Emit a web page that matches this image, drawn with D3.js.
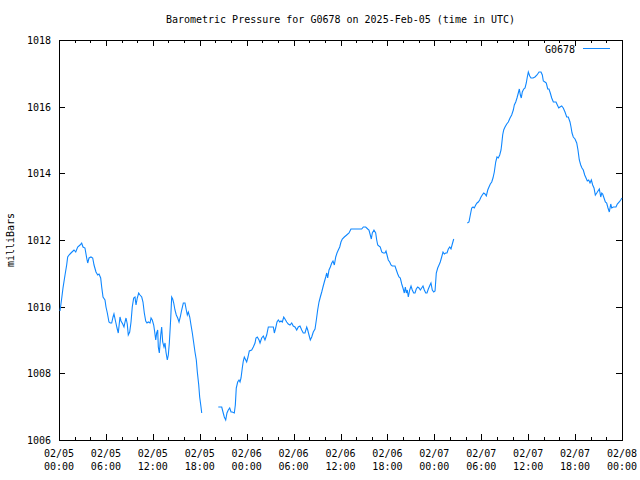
<!DOCTYPE html>
<html><head><meta charset="utf-8">
<script src="https://cdn.jsdelivr.net/npm/d3@7"></script>
<style>
body{margin:0;background:#fff}
svg text{font-family:"DejaVu Sans Mono","Liberation Mono",monospace;font-size:10px;fill:#000}
</style>
</head><body>
<svg id="chart" width="640" height="480"></svg>
<script>
const chartTitle = "Barometric Pressure for G0678 on 2025-Feb-05 (time in UTC)";
const seriesName = "G0678";
const yAxisLabel = "milliBars";
const yTickValues = [1006, 1008, 1010, 1012, 1014, 1016, 1018];
const startUTC = Date.UTC(2025, 1, 5, 0, 0);
const endUTC = Date.UTC(2025, 1, 8, 0, 0);

// hours since 2025-02-05 00:00 UTC
const hours = [
0.13,0.35,0.51,0.77,0.98,1.11,1.28,1.53,1.66,1.92,2.14,2.39,2.69,2.90,3.07,3.32,3.54,3.67,3.84,4.09,
4.31,4.48,4.73,4.95,5.12,5.33,5.46,5.63,5.88,6.01,6.18,6.39,6.56,6.74,6.91,7.03,7.25,7.42,7.58,7.80,
7.93,8.15,8.31,8.44,8.57,8.73,8.86,9.04,9.21,9.37,9.55,9.72,9.85,10.01,10.19,10.36,10.58,10.74,10.91,11.09,
11.25,11.42,11.64,11.77,11.93,12.11,12.24,12.37,12.49,12.62,12.70,12.83,13.01,13.13,13.26,13.43,13.56,13.68,13.85,13.98,
14.11,14.29,14.41,14.54,14.67,14.83,15.00,15.18,15.35,15.51,15.69,15.90,16.11,16.28,16.41,16.54,16.72,16.88,17.05,17.23,
17.39,17.56,17.69,17.87,17.99,18.16,18.25,19.30,
20.37,20.81,20.97,21.14,21.32,21.48,21.65,21.83,22.00,22.16,22.42,22.55,22.67,22.85,23.02,23.15,23.28,23.44,23.57,23.70,
23.88,24.00,24.17,24.34,24.64,24.85,25.07,25.19,25.36,25.58,25.71,25.92,26.13,26.34,26.56,26.77,27.20,27.41,27.54,27.71,
27.88,28.05,28.23,28.39,28.56,28.74,28.90,29.12,29.32,29.54,29.76,29.96,30.18,30.40,30.60,30.82,31.04,31.24,31.46,31.68,
31.81,31.97,32.14,32.32,32.52,32.74,32.91,33.08,33.25,33.42,33.60,33.76,33.93,34.11,34.24,34.36,34.53,34.70,34.88,35.04,
35.21,35.39,35.55,35.72,35.90,36.06,36.23,36.49,36.79,37.09,37.34,37.85,38.71,38.92,39.22,39.48,39.64,39.81,39.94,40.07,
40.28,40.50,40.63,40.76,40.92,41.09,41.27,41.47,41.69,41.82,41.95,42.11,42.29,42.46,42.62,42.97,43.14,43.32,43.48,43.65,
43.83,43.99,44.16,44.29,44.42,44.54,44.67,44.85,45.02,45.18,45.36,45.53,45.69,45.87,46.04,46.21,46.38,46.55,46.72,46.90,
47.06,47.23,47.45,47.57,47.74,47.92,48.09,48.25,48.43,48.60,48.76,48.94,49.11,49.28,49.45,49.62,49.79,49.97,50.13,50.30,
50.48,51.30,
52.22,52.43,52.60,52.78,52.95,53.11,53.29,53.46,53.62,53.80,53.97,54.13,54.31,54.48,54.65,54.83,54.99,55.16,55.34,55.50,
55.67,55.85,56.01,56.18,56.36,56.53,56.62,56.74,56.87,57.04,57.26,57.46,57.68,57.89,58.10,58.23,58.41,58.57,58.74,58.87,
59.00,59.12,59.25,59.43,59.60,59.76,59.89,60.02,60.20,60.36,60.62,60.87,61.13,61.39,61.64,61.81,61.94,62.15,62.32,62.50,
62.66,62.83,63.01,63.22,63.56,63.73,63.91,64.07,64.29,64.49,64.71,64.93,65.13,65.35,65.48,65.61,65.77,65.99,66.21,66.37,
66.54,66.72,66.88,67.05,67.23,67.40,67.56,67.74,67.91,68.08,68.25,68.42,68.59,68.77,68.93,69.10,69.28,69.41,69.53,69.70,
69.87,70.04,70.21,70.38,70.56,70.68,70.89,71.23,71.40,71.65,71.83,72.00
];

// pressure in millibars (null = no data)
const pressure = [
1009.87,1010.26,1010.56,1010.95,1011.25,1011.49,1011.55,1011.61,1011.64,1011.70,1011.64,1011.79,1011.85,1011.91,1011.79,1011.76,1011.46,1011.31,1011.46,1011.49,
1011.46,1011.25,1011.04,1010.95,1010.98,1010.86,1010.59,1010.29,1010.20,1009.99,1009.81,1009.54,1009.51,1009.51,1009.69,1009.78,1009.54,1009.36,1009.21,1009.69,
1009.57,1009.48,1009.39,1009.54,1009.66,1009.48,1009.15,1009.24,1009.54,1009.99,1010.26,1010.29,1010.05,1010.26,1010.41,1010.35,1010.29,1010.14,1009.81,1009.57,
1009.51,1009.54,1009.51,1009.66,1009.60,1009.45,1009.24,1009.00,1009.21,1009.30,1008.79,1008.61,1009.15,1009.39,1008.94,1008.79,1008.91,1008.64,1008.40,1008.55,
1008.91,1009.66,1010.29,1010.23,1010.11,1009.90,1009.75,1009.66,1009.54,1009.69,1009.90,1010.11,1010.11,1009.90,1009.75,1009.84,1009.69,1009.45,1009.21,1008.91,
1008.64,1008.40,1008.04,1007.65,1007.29,1006.99,1006.81,null,
1006.99,1006.99,1006.84,1006.69,1006.60,1006.81,1006.90,1006.96,1006.84,1006.84,1006.81,1007.05,1007.56,1007.74,1007.80,1007.74,1007.86,1008.16,1008.37,1008.49,
1008.40,1008.34,1008.49,1008.67,1008.70,1008.79,1008.91,1009.06,1009.09,1009.00,1008.91,1009.06,1009.12,1009.00,1009.15,1009.39,1009.39,1009.39,1009.21,1009.36,
1009.54,1009.60,1009.54,1009.57,1009.54,1009.69,1009.63,1009.54,1009.48,1009.45,1009.51,1009.42,1009.39,1009.30,1009.39,1009.42,1009.30,1009.21,1009.21,1009.39,
1009.30,1009.15,1009.00,1009.09,1009.24,1009.33,1009.60,1009.90,1010.14,1010.29,1010.44,1010.59,1010.74,1010.89,1011.01,1010.86,1011.10,1011.19,1011.31,1011.37,
1011.25,1011.49,1011.61,1011.70,1011.79,1011.94,1012.03,1012.09,1012.15,1012.21,1012.33,1012.33,1012.33,1012.39,1012.39,1012.33,1012.30,1012.15,1012.03,1012.21,
1012.30,1012.21,1012.00,1011.85,1011.82,1011.79,1011.64,1011.61,1011.61,1011.67,1011.55,1011.40,1011.34,1011.25,1011.22,1011.22,1011.10,1010.98,1010.89,1010.86,
1010.68,1010.56,1010.41,1010.59,1010.41,1010.50,1010.29,1010.50,1010.62,1010.50,1010.41,1010.41,1010.53,1010.59,1010.56,1010.50,1010.56,1010.62,1010.50,1010.41,
1010.41,1010.53,1010.65,1010.71,1010.50,1010.44,1010.47,1011.01,1011.16,1011.25,1011.34,1011.49,1011.64,1011.58,1011.61,1011.61,1011.73,1011.79,1011.73,1011.88,
1012.03,null,
1012.51,1012.54,1012.75,1012.96,1012.99,1012.96,1013.05,1013.11,1013.14,1013.20,1013.29,1013.35,1013.41,1013.38,1013.32,1013.50,1013.59,1013.68,1013.74,1013.86,
1014.04,1014.34,1014.49,1014.46,1014.55,1014.70,1014.88,1015.15,1015.30,1015.39,1015.48,1015.54,1015.66,1015.75,1015.90,1016.05,1016.14,1016.26,1016.41,1016.53,
1016.35,1016.26,1016.44,1016.53,1016.56,1016.71,1016.89,1017.04,1016.92,1016.86,1016.86,1016.89,1016.95,1017.04,1017.04,1016.95,1016.77,1016.74,1016.71,1016.53,
1016.53,1016.41,1016.26,1016.14,1016.14,1016.05,1015.96,1015.99,1016.02,1015.96,1015.84,1015.69,1015.69,1015.54,1015.39,1015.21,1015.09,1015.03,1014.91,1014.70,
1014.40,1014.25,1014.16,1014.10,1013.95,1013.86,1013.77,1013.80,1013.71,1013.80,1013.65,1013.56,1013.35,1013.41,1013.47,1013.53,1013.29,1013.41,1013.38,1013.26,
1013.14,1013.11,1012.96,1012.84,1013.08,1012.96,1012.99,1012.99,1013.08,1013.14,1013.20,1013.26
];

const lineColor = "#0f87ff";
const W = 640, H = 480;
const m = {left: 59, right: 622, top: 40, bottom: 440};

const svg = d3.select("#chart");
svg.append("rect").attr("width", W).attr("height", H).attr("fill", "#fff");

const x = d3.scaleUtc().domain([new Date(startUTC), new Date(endUTC)]).range([m.left, m.right]);
const y = d3.scaleLinear().domain([1006, 1018]).range([m.bottom, m.top]);

const data = hours.map((h, i) => ({t: new Date(startUTC + h * 3600000), v: pressure[i]}));

const majorX = d3.utcHour.every(6).range(new Date(startUTC), new Date(endUTC + 1));
const minorX = d3.utcHour.every(2).range(new Date(startUTC), new Date(endUTC + 1));

// ticks (inward, mirrored)
const gx = svg.append("g").attr("shape-rendering", "crispEdges");
function axisGroup(axis, tf) {
  const g = gx.append("g").attr("transform", tf).call(axis);
  g.select(".domain").remove();
  g.selectAll("text").remove();
  g.selectAll("line").attr("stroke", "#000");
  return g;
}
axisGroup(d3.axisBottom(x).tickValues(minorX).tickSize(-3), `translate(0,${m.bottom})`);
axisGroup(d3.axisBottom(x).tickValues(majorX).tickSize(-6), `translate(0,${m.bottom})`);
axisGroup(d3.axisTop(x).tickValues(minorX).tickSize(-3), `translate(0,${m.top})`);
axisGroup(d3.axisTop(x).tickValues(majorX).tickSize(-6), `translate(0,${m.top})`);
axisGroup(d3.axisLeft(y).tickValues(yTickValues).tickSize(-6), `translate(${m.left},0)`);
axisGroup(d3.axisRight(y).tickValues(yTickValues).tickSize(-6), `translate(${m.right},0)`);

// frame
svg.append("rect").attr("x", m.left + 0.5).attr("y", m.top + 0.5)
  .attr("width", m.right - m.left).attr("height", m.bottom - m.top)
  .attr("fill", "none").attr("stroke", "#000").attr("shape-rendering", "crispEdges");

// y tick labels
svg.append("g").selectAll("text").data(yTickValues).join("text")
  .attr("x", 51).attr("y", d => y(d) + 4).attr("text-anchor", "end").text(d => d);

// x tick labels
const fDate = d3.utcFormat("%m/%d"), fTime = d3.utcFormat("%H:%M");
const xl = svg.append("g").selectAll("g").data(majorX).join("g")
  .attr("transform", d => `translate(${x(d)},0)`);
xl.append("text").attr("y", 457).attr("text-anchor", "middle").text(d => fDate(d));
xl.append("text").attr("y", 470).attr("text-anchor", "middle").text(d => fTime(d));

// title
svg.append("text").attr("x", (m.left + m.right) / 2).attr("y", 23)
  .attr("text-anchor", "middle").text(chartTitle);

// y axis label
svg.append("text").attr("transform", `translate(14,${(m.top + m.bottom) / 2}) rotate(-90)`)
  .attr("text-anchor", "middle").text(yAxisLabel);

// data line
const line = d3.line().defined(d => d.v !== null).x(d => x(d.t)).y(d => y(d.v));
svg.append("path").datum(data).attr("d", line)
  .attr("fill", "none").attr("stroke", lineColor).attr("stroke-width", 1.1)
  .attr("stroke-linejoin", "miter");

// legend
svg.append("text").attr("x", 575).attr("y", 53).attr("text-anchor", "end").text(seriesName);
svg.append("line").attr("x1", 583).attr("x2", 610).attr("y1", 48.5).attr("y2", 48.5)
  .attr("stroke", lineColor).attr("stroke-width", 1);
</script>
</body></html>
